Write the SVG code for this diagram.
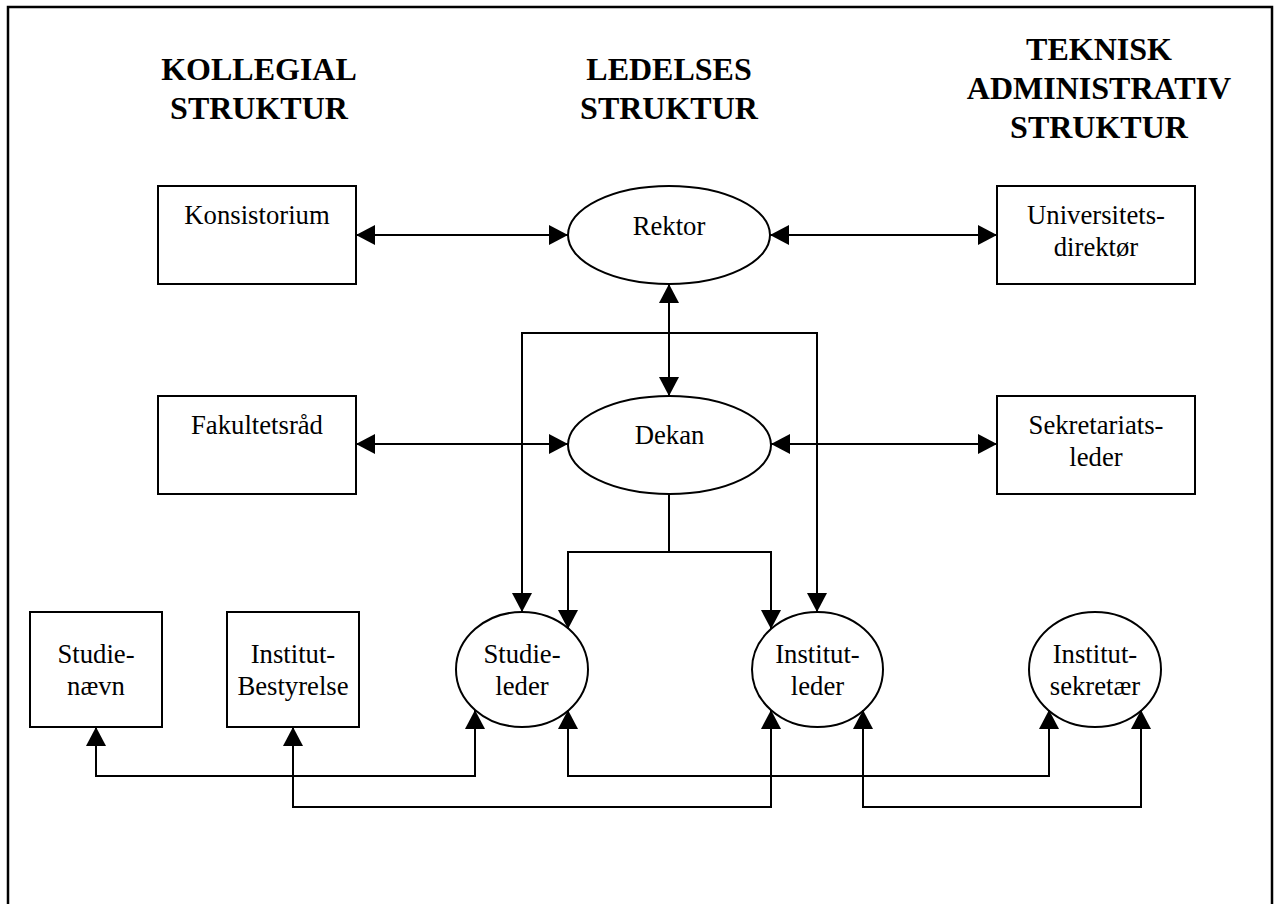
<svg xmlns="http://www.w3.org/2000/svg" width="1278" height="904" viewBox="0 0 1278 904">
<style>
.box{fill:#fff;stroke:#000;stroke-width:2}
.lbl{font-family:"Liberation Serif","Times New Roman",serif;font-size:26.7px;fill:#000;text-anchor:middle}
.ttl{font-family:"Liberation Serif","Times New Roman",serif;font-size:32px;font-weight:bold;fill:#000;text-anchor:middle}
.ln{fill:none;stroke:#000;stroke-width:2}
.a2{marker-start:url(#ah);marker-end:url(#ah)}
</style>
<defs>
<marker id="ah" viewBox="0 0 19 20" refX="19" refY="10" markerWidth="19" markerHeight="20" markerUnits="userSpaceOnUse" orient="auto-start-reverse">
<path d="M0,0 L19,10 L0,20 z" fill="#000"/>
</marker>
</defs>
<rect x="0" y="0" width="1278" height="904" fill="#fff"/>
<rect x="8" y="7" width="1264" height="920" fill="none" stroke="#000" stroke-width="2.5"/>
<g id="titles">
<text class="ttl" x="259" y="80">KOLLEGIAL</text>
<text class="ttl" x="259" y="119">STRUKTUR</text>
<text class="ttl" x="669" y="80">LEDELSES</text>
<text class="ttl" x="669" y="119">STRUKTUR</text>
<text class="ttl" x="1099" y="60">TEKNISK</text>
<text class="ttl" x="1099" y="99">ADMINISTRATIV</text>
<text class="ttl" x="1099" y="138">STRUKTUR</text>
</g>
<g id="konsistorium"><rect class="box" x="158" y="186" width="198" height="98"/><text class="lbl" x="257" y="224">Konsistorium</text></g>
<g id="rektor"><ellipse class="box" cx="669" cy="235" rx="101" ry="49"/><text class="lbl" x="669" y="235">Rektor</text></g>
<g id="universitetsdirektor"><rect class="box" x="997" y="186" width="198" height="98"/><text class="lbl" x="1096" y="224">Universitets-</text><text class="lbl" x="1096" y="256">direktør</text></g>
<g id="fakultetsraad"><rect class="box" x="158" y="396" width="198" height="98"/><text class="lbl" x="257" y="434">Fakultetsråd</text></g>
<g id="dekan"><ellipse class="box" cx="669.5" cy="445" rx="101.5" ry="49"/><text class="lbl" x="669.5" y="444">Dekan</text></g>
<g id="sekretariatsleder"><rect class="box" x="997" y="396" width="198" height="98"/><text class="lbl" x="1096" y="434">Sekretariats-</text><text class="lbl" x="1096" y="466">leder</text></g>
<g id="studienaevn"><rect class="box" x="30" y="612" width="132" height="115"/><text class="lbl" x="96" y="663">Studie-</text><text class="lbl" x="96" y="695">nævn</text></g>
<g id="institutbestyrelse"><rect class="box" x="227" y="612" width="132" height="115"/><text class="lbl" x="293" y="663">Institut-</text><text class="lbl" x="293" y="695">Bestyrelse</text></g>
<g id="studieleder"><ellipse class="box" cx="522" cy="669.5" rx="66" ry="57.5"/><text class="lbl" x="522" y="663">Studie-</text><text class="lbl" x="522" y="695">leder</text></g>
<g id="institutleder"><ellipse class="box" cx="817.5" cy="669.5" rx="65.5" ry="57.5"/><text class="lbl" x="817.5" y="663">Institut-</text><text class="lbl" x="817.5" y="695">leder</text></g>
<g id="institutsekretaer"><ellipse class="box" cx="1095" cy="669.5" rx="66" ry="57.5"/><text class="lbl" x="1095" y="663">Institut-</text><text class="lbl" x="1095" y="695">sekretær</text></g>
<g id="connectors">
<path class="ln a2" d="M356,235 L568,235"/>
<path class="ln a2" d="M770,235 L997,235"/>
<path class="ln a2" d="M669,284 L669,396"/>
<path class="ln a2" d="M356,444 L568,444"/>
<path class="ln a2" d="M771,444 L997,444"/>
<path class="ln a2" d="M522,612 L522,333 L817,333 L817,612"/>
<path class="ln" d="M669,494 L669,552"/>
<path class="ln a2" d="M568,629 L568,552 L771,552 L771,629"/>
<path class="ln a2" d="M96,727 L96,776 L475,776 L475,710"/>
<path class="ln a2" d="M293,727 L293,807 L771,807 L771,710"/>
<path class="ln a2" d="M568,710 L568,776 L1049,776 L1049,710"/>
<path class="ln a2" d="M863,710 L863,807 L1141,807 L1141,710"/>
</g>
</svg>
